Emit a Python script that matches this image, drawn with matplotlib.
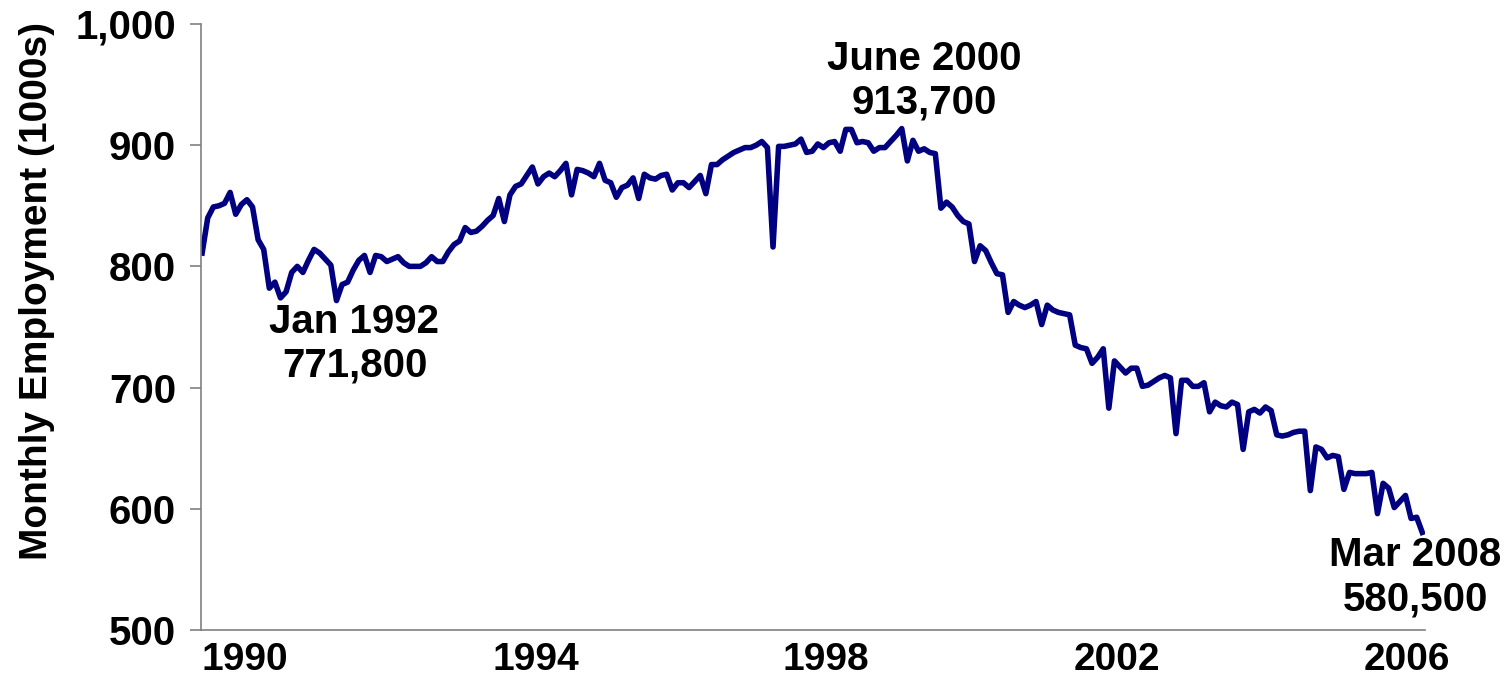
import matplotlib.pyplot as plt
import numpy as np

plt.rcParams['font.family'] = ['Liberation Sans', 'DejaVu Sans']
plt.rcParams['font.weight'] = 'bold'

# monthly employment (1000s), Jan 1990 .. Mar 2008
employment = [
    811, 840, 849, 850, 852, 861, 843, 851, 855, 849, 822, 814,
    782, 787, 774, 779, 795, 800, 795, 805, 814, 811, 806, 801,
    771.8, 785, 787, 797, 805, 809, 795, 809, 808, 804, 806, 808,
    803, 800, 800, 800, 803, 808, 804, 804, 812, 818, 821, 832,
    828, 829, 833, 838, 842, 856, 837, 859, 866, 868, 875, 882,
    868, 874, 877, 874, 879, 885, 859, 880, 879, 877, 874, 885,
    871, 869, 857, 865, 867, 873, 856, 876, 873, 872, 875, 876,
    863, 869, 869, 865, 870, 875, 860, 884, 884, 888, 891, 894,
    896, 898, 898, 900, 903, 898, 816, 899, 899, 900, 901, 905,
    894, 895, 901, 898, 902, 903, 895, 913, 913, 902, 903, 902,
    895, 898, 898, 903, 908, 913.7, 887, 904, 895, 897, 894, 893,
    848, 853, 849, 842, 837, 835, 804, 817, 813, 803, 794, 793,
    762, 771, 768, 766, 768, 771, 752, 768, 764, 762, 761, 760,
    735, 733, 732, 720, 725, 732, 683, 722, 717, 712, 716, 716,
    701, 702, 705, 708, 710, 708, 662, 706, 706, 701, 701, 704,
    680, 688, 685, 684, 688, 686, 649, 680, 682, 679, 684, 681,
    661, 660, 661, 663, 664, 664, 615, 651, 649, 642, 644, 643,
    616, 630, 629, 629, 629, 630, 596, 621, 617, 601, 606, 611,
    592, 593, 580.5,
]
months = np.arange(len(employment))

xtick_pos = [7.7, 59.6, 111.5, 163.4, 215.3]
xtick_labels = ['1990', '1994', '1998', '2002', '2006']
yticks = [500, 600, 700, 800, 900, 1000]
ytick_labels = ['500', '600', '700', '800', '900', '1,000']

# annotated points: (month index, label, pixel offset of text)
notes = [
    (24, 'Jan 1992\n771,800', (18, -43)),
    (125, 'June 2000\n913,700', (23, 48)),
    (218, 'Mar 2008\n580,500', (-7, -45)),
]

fig = plt.figure(figsize=(15.08, 6.79), dpi=100)
ax = fig.add_axes([0.1333, 0.0722, 0.8117, 0.8925])

ax.plot(months, employment, color='#000080', linewidth=4, solid_joinstyle='round')

ax.set_xlim(-0.2, 218.5)
ax.set_ylim(500, 1000)
ax.set_yticks(yticks)
ax.set_yticklabels(ytick_labels)
ax.set_xticks(xtick_pos)
ax.set_xticklabels(xtick_labels)

ax.tick_params(axis='y', length=8, width=1.2, color='#808080', pad=10, labelsize=29)
ax.tick_params(axis='x', length=0, pad=9, labelsize=28)

for s in ['top', 'right']:
    ax.spines[s].set_visible(False)
for s in ['left', 'bottom']:
    ax.spines[s].set_color('#808080')
    ax.spines[s].set_linewidth(1.2)

ax.set_ylabel('Monthly Employment (1000s)', fontsize=28, fontweight='bold')
ax.yaxis.set_label_coords(-0.119, 0.559)

for i, txt, off in notes:
    ax.annotate(txt, xy=(months[i], employment[i]), xytext=off,
                textcoords='offset pixels', ha='center', va='center',
                fontsize=29, fontweight='bold', linespacing=1.2)

fig.savefig('out.png', dpi=100)
